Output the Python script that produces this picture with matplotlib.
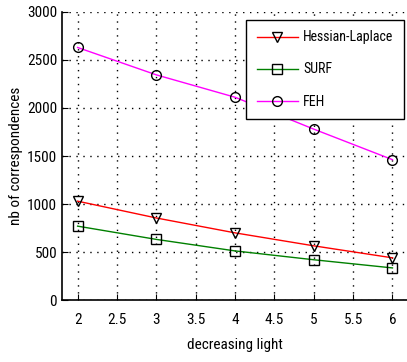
import matplotlib
matplotlib.use("Agg")
import matplotlib.pyplot as plt

x = [2, 3, 4, 5, 6]
hessian = [1030, 855, 700, 565, 440]
surf = [770, 632, 512, 420, 335]
feh = [2630, 2345, 2112, 1780, 1462]
series_labels = ["Hessian-Laplace", "SURF", "FEH"]
xticks = [2, 2.5, 3, 3.5, 4, 4.5, 5, 5.5, 6]
yticks = [0, 500, 1000, 1500, 2000, 2500, 3000]

plt.rcParams['font.family'] = ['Roboto Condensed', 'DejaVu Sans']
fig = plt.figure(figsize=(4.07, 3.62), dpi=100)
ax = fig.add_axes([0.152, 0.171, 0.851, 0.796])

mk = dict(markerfacecolor='none', markeredgecolor='black', markersize=7, markeredgewidth=1)
ax.plot(x, hessian, color='red', marker='v', lw=1, label=series_labels[0], **mk)
ax.plot(x, surf, color='#008000', marker='s', lw=1, label=series_labels[1], **mk)
ax.plot(x, feh, color='magenta', marker='o', lw=1, label=series_labels[2], **mk)

ax.set_xlim(1.8, 6.2)
ax.set_ylim(0, 3000)
ax.set_xticks(xticks)
ax.set_xticklabels([("%g" % t) for t in xticks])
ax.set_yticks(yticks)
ax.grid(True, linestyle=(0, (1, 4)), color='black', linewidth=1)
ax.tick_params(direction='in', labelsize=11, length=4)
ax.tick_params(axis='x', pad=9)
ax.spines['top'].set_visible(False)
ax.spines['right'].set_visible(False)
ax.spines['left'].set_linewidth(1.2)
ax.spines['bottom'].set_linewidth(1.2)
ax.set_xlabel("decreasing light", fontsize=11, labelpad=8)
ax.set_ylabel("nb of correspondences", fontsize=11, labelpad=3)

leg = ax.legend(loc='upper right', bbox_to_anchor=(0.987, 0.972), borderaxespad=0,
                fontsize=10, fancybox=False, framealpha=1, edgecolor='black',
                borderpad=0.75, labelspacing=1.3, handlelength=3.0, handletextpad=0.35)
leg.get_frame().set_linewidth(1)

fig.savefig("out.png", dpi=100)
